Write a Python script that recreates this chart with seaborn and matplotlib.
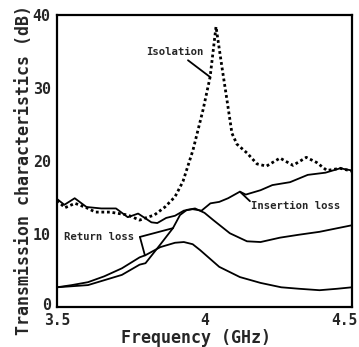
import numpy as np
import matplotlib
matplotlib.use("Agg")
import matplotlib.pyplot as plt
import matplotlib.transforms as mtransforms
import seaborn as sns
from matplotlib.ticker import MultipleLocator, FixedLocator, FixedFormatter

# ---- data ----
iso_f = [3.50, 3.527, 3.561, 3.60, 3.63, 3.68, 3.74, 3.78, 3.80, 3.83, 3.866, 3.90,
         3.927, 3.961, 3.995, 4.019, 4.039, 4.059, 4.076, 4.093, 4.11, 4.144, 4.178,
         4.21, 4.256, 4.30, 4.345, 4.38, 4.415, 4.46, 4.50]
iso_db = [14.6, 13.6, 14.2, 13.6, 13.0, 13.0, 12.6, 11.9, 12.2, 12.6, 13.7, 15.1,
          17.2, 21.5, 27.0, 31.5, 38.4, 32.9, 28.4, 23.8, 22.3, 21.1, 19.6,
          19.3, 20.4, 19.4, 20.5, 19.8, 18.7, 19.0, 18.6]

ins_f = [3.50, 3.525, 3.56, 3.60, 3.65, 3.70, 3.74, 3.775, 3.82, 3.84, 3.87, 3.90,
         3.93, 3.96, 3.99, 4.02, 4.05, 4.08, 4.12, 4.14, 4.19, 4.23, 4.29, 4.35,
         4.41, 4.46, 4.50]
ins_db = [14.8, 14.0, 14.9, 13.7, 13.5, 13.5, 12.3, 12.8, 11.6, 11.5, 12.2, 12.5,
          13.2, 13.4, 13.2, 14.2, 14.4, 14.9, 15.8, 15.4, 16.0, 16.7, 17.1, 18.1,
          18.4, 19.0, 18.7]

rla_f = [3.50, 3.55, 3.605, 3.66, 3.72, 3.78, 3.80, 3.85, 3.90, 3.93, 3.96, 3.985,
         4.05, 4.12, 4.19, 4.26, 4.32, 4.39, 4.45, 4.50]
rla_db = [2.7, 3.0, 3.4, 4.2, 5.3, 6.8, 7.1, 8.2, 8.8, 8.9, 8.6, 7.8,
          5.5, 4.1, 3.3, 2.7, 2.5, 2.3, 2.5, 2.7]

rlb_f = [3.50, 3.605, 3.72, 3.78, 3.80, 3.849, 3.893, 3.917, 3.94, 3.968, 4.00,
         4.03, 4.086, 4.144, 4.19, 4.256, 4.32, 4.39, 4.50]
rlb_db = [2.7, 3.0, 4.4, 5.8, 6.0, 8.5, 10.8, 12.6, 13.3, 13.5, 12.9,
          11.9, 10.1, 9.0, 8.9, 9.5, 9.9, 10.3, 11.2]

x_ticks = [3.5, 4.0, 4.5]
x_tick_labels = ["3.5", "4", "4.5"]
y_ticks = [0, 10, 20, 30, 40]
y_tick_labels = ["0", "10", "20", "30", "40"]

# ---- figure ----
sns.set_style("white")
plt.rcParams["font.family"] = ["DejaVu Sans Mono", "DejaVu Sans"]

fig = plt.figure(figsize=(3.59, 3.47), dpi=100)
ax = fig.add_axes([57/359, 40/347, 295/359, 292/347])

lw = 1.3
sns.lineplot(x=iso_f, y=iso_db, ax=ax, color="black", linewidth=2.0,
             linestyle=(0, (1.0, 1.0)))
sns.lineplot(x=ins_f, y=ins_db, ax=ax, color="black", linewidth=lw)
sns.lineplot(x=rla_f, y=rla_db, ax=ax, color="black", linewidth=lw)
sns.lineplot(x=rlb_f, y=rlb_db, ax=ax, color="black", linewidth=lw)

ax.set_xlim(3.5, 4.5)
ax.set_ylim(0, 40)

ax.xaxis.set_major_locator(FixedLocator(x_ticks))
ax.xaxis.set_major_formatter(FixedFormatter(x_tick_labels))
ax.xaxis.set_minor_locator(MultipleLocator(0.1))
ax.yaxis.set_major_locator(FixedLocator(y_ticks))
ax.yaxis.set_major_formatter(FixedFormatter(y_tick_labels))
ax.yaxis.set_minor_locator(MultipleLocator(5))

for s in ax.spines.values():
    s.set_visible(True)
    s.set_linewidth(1.6)
    s.set_color("black")

ax.tick_params(axis="x", which="major", direction="in", length=5, width=1.2,
               pad=4, labelsize=10.5)
ax.tick_params(axis="x", which="minor", direction="in", length=3, width=1.0)
ax.tick_params(axis="y", which="major", direction="inout", length=7, width=1.2,
               pad=1, labelsize=10.8)
ax.tick_params(axis="y", which="minor", direction="in", length=3, width=1.0)
for lab in ax.get_xticklabels() + ax.get_yticklabels():
    lab.set_fontweight("bold")

# keep the last x tick label inside the figure (right-aligned, nudged right)
fig.canvas.draw()
last = ax.get_xticklabels()[-1]
last.set_horizontalalignment("right")
last.set_transform(last.get_transform() +
                   mtransforms.ScaledTranslation(6/100, 0, fig.dpi_scale_trans))
# nudge the y "0" label up a touch so it does not collide with "3.5"
zero = ax.get_yticklabels()[0]
zero.set_transform(zero.get_transform() +
                   mtransforms.ScaledTranslation(0, 3/100, fig.dpi_scale_trans))

ax.set_xlabel("Frequency (GHz)", fontsize=12, fontweight="bold")
ax.set_ylabel("Transmission characteristics (dB)", fontsize=12, fontweight="bold")
ax.xaxis.set_label_coords(0.471, -0.077)
ax.yaxis.set_label_coords(-0.083, 0.469)

# ---- annotations ----
afs = 7.7
ax.text(3.90, 34.9, "Isolation", fontsize=afs, fontweight="bold",
        ha="center", va="center")
ax.annotate("", xy=(4.019, float(np.interp(4.019, iso_f, iso_db))),
            xytext=(3.944, 33.8),
            arrowprops=dict(arrowstyle="-", color="black", lw=1.3,
                            shrinkA=0, shrinkB=0))

ax.text(4.31, 13.8, "Insertion loss", fontsize=afs, fontweight="bold",
        ha="center", va="center")
ax.annotate("", xy=(4.12, float(np.interp(4.12, ins_f, ins_db))),
            xytext=(4.154, 14.5),
            arrowprops=dict(arrowstyle="-", color="black", lw=1.3,
                            shrinkA=0, shrinkB=0))

ax.text(3.642, 9.6, "Return loss", fontsize=afs, fontweight="bold",
        ha="center", va="center")
ax.annotate("", xy=(3.893, float(np.interp(3.893, rlb_f, rlb_db))),
            xytext=(3.781, 9.6),
            arrowprops=dict(arrowstyle="-", color="black", lw=1.3,
                            shrinkA=0, shrinkB=0))
ax.annotate("", xy=(3.798, float(np.interp(3.798, rla_f, rla_db))),
            xytext=(3.781, 9.6),
            arrowprops=dict(arrowstyle="-", color="black", lw=1.3,
                            shrinkA=0, shrinkB=0))

fig.savefig("out.png", dpi=100)
